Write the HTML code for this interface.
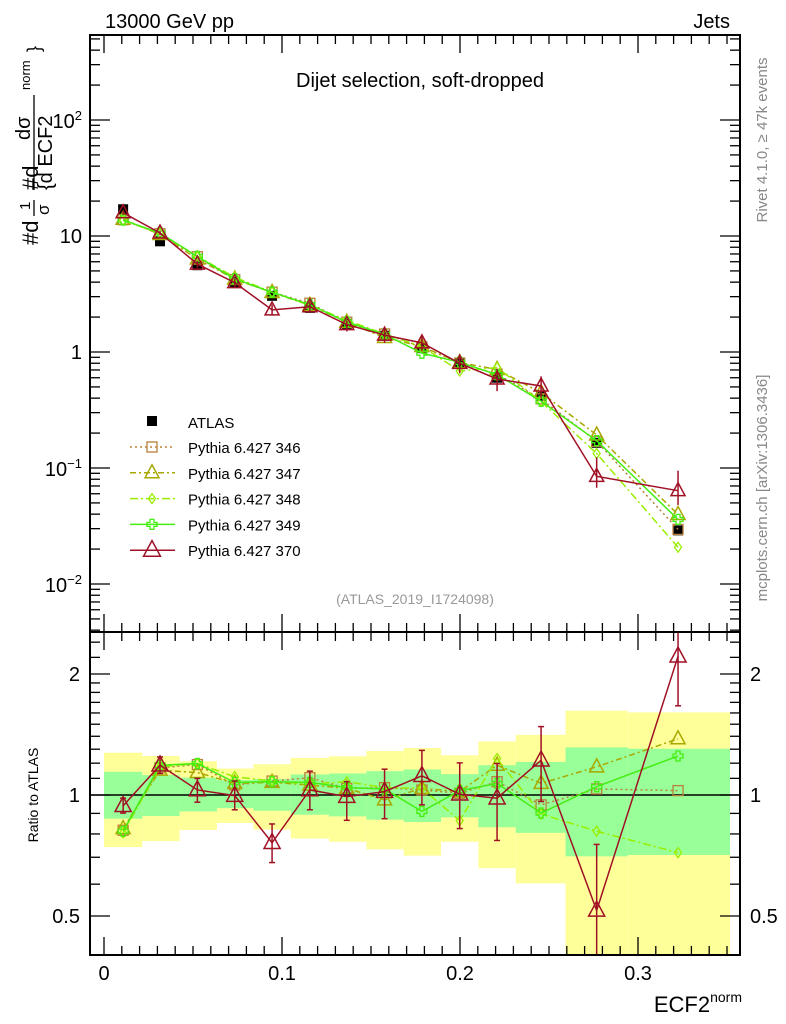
<!DOCTYPE html>
<html><head><meta charset="utf-8"><style>
html,body{margin:0;padding:0;background:#fff;}
svg{display:block;font-family:"Liberation Sans",sans-serif;}
</style></head><body>
<svg id="s" width="786" height="1024" xmlns="http://www.w3.org/2000/svg"></svg>
<script>
const S=document.getElementById('s');let h='';
const X0=90,X1=740,MT=35,MB=632,RB=955;
const xp=v=>104+v*1780;
const zx=z=>104+(z-52)/2.249;
const ym=v=>352-116*Math.log10(v);
const yr=r=>795-121*Math.log2(r);
const zy=z=>Math.pow(2,(527-z)/367);
const edgesZ=[52,138,222,306,388,472,558,642,726,810,894,978,1090,1230,1460];
const Y=[[402,688],[412,670],[428,636],[450,615],[437,635],[418,662],[413,672],[397,695],[388,714],[410,672],[368,752],[348,798],[275,1000],[280,1000]];
const G=[[460,602],[470,594],[478,580],[485,570],[482,578],[468,590],[465,595],[458,605],[453,612],[467,598],[440,628],[430,645],[386,716],[390,712]];
const zc=z=>620+z/3.03;
for(let i=0;i<14;i++){const a=zx(edgesZ[i]),b=zx(edgesZ[i+1]);const bot=Y[i][1]>=1000?RB:zc(Y[i][1]);
h+=`<rect x="${a}" y="${zc(Y[i][0])}" width="${b-a}" height="${bot-zc(Y[i][0])}" fill="#ffff99"/>`;}
for(let i=0;i<14;i++){const a=zx(edgesZ[i]),b=zx(edgesZ[i+1]);
h+=`<rect x="${a}" y="${zc(G[i][0])}" width="${b-a}" height="${zc(G[i][1])-zc(G[i][0])}" fill="#99ff99"/>`;}
h+=`<line x1="${X0}" x2="${X1}" y1="795" y2="795" stroke="#000" stroke-width="1.5"/>`;
const xc=[95,178,262,346,430,515,598,683,767,852,936,1035,1160,1343].map(zx);
const atlas=[17,9.0,5.6,4.0,3.05,2.4,1.75,1.38,1.08,0.8,0.6,0.42,0.165,0.029];
const series=[
{c:'#b8803a',d:'2,3',m:'sq',r:[637,448,438,500,488,478,510,508,515,525,490,560,512,517]},
{c:'#a8a800',d:'6,3,2,3',m:'tri',r:[632,455,462,495,492,500,510,545,510,520,440,495,445,360]},
{c:'#99ee00',d:'8,3,2,3',m:'dia',r:[645,445,435,475,488,497,490,508,510,608,420,588,640,705]},
{c:'#44ee11',d:'',m:'cross',r:[640,440,435,492,490,492,508,512,580,517,495,585,505,412]},
{c:'#a01025',d:'',m:'tri',r:[563,440,515,532,675,515,535,520,472,528,540,425,880,110]}];
const err370=[[540,585],[415,465],[480,552],[488,575],[618,735],[458,575],[490,607],[452,602],[395,560],[433,632],[435,668],[323,550],[680,1100],[-100,260]];
function mk(t,x,y,c,s){s=s||1;
if(t=='sq')return `<rect x="${x-5*s}" y="${y-5*s}" width="${10*s}" height="${10*s}" fill="none" stroke="${c}" stroke-width="1.3"/>`;
if(t=='tri')return `<polygon points="${x},${y-8*s} ${x-7*s},${y+5*s} ${x+7*s},${y+5*s}" fill="none" stroke="${c}" stroke-width="1.5"/>`;
if(t=='dia')return `<polygon points="${x},${y-5} ${x-3.5},${y} ${x},${y+5} ${x+3.5},${y}" fill="none" stroke="${c}" stroke-width="1.3"/>`;
if(t=='cross')return `<path d="M${x-2},${y-5}h4v3h3v4h-3v3h-4v-3h-3v-4h3z" fill="none" stroke="${c}" stroke-width="1.3"/>`;
if(t=='atl')return `<rect x="${x-5}" y="${y-5}" width="10" height="10" fill="#000"/>`;}
h+=`<defs><clipPath id="cm"><rect x="${X0}" y="${MT}" width="${X1-X0}" height="${MB-MT}"/></clipPath><clipPath id="cr"><rect x="${X0}" y="${MB}" width="${X1-X0}" height="${RB-MB}"/></clipPath></defs>`;
let m='';
atlas.forEach((v,i)=>m+=mk('atl',xc[i],ym(v)));
series.forEach((s,k)=>{const pts=s.r.map((z,i)=>[xc[i],ym(atlas[i]*zy(z))]);
m+=`<polyline points="${pts.map(p=>p.join(',')).join(' ')}" fill="none" stroke="${s.c}" stroke-width="1.5" ${s.d?`stroke-dasharray="${s.d}"`:''}/>`;
if(k==4){pts.forEach((p,i)=>{const e=err370[i];const a=ym(atlas[i]*zy(e[0])),b=ym(atlas[i]*zy(Math.min(e[1],1000)));m+=`<line x1="${p[0]}" x2="${p[0]}" y1="${a}" y2="${b}" stroke="${s.c}" stroke-width="1.5"/>`;});}
pts.forEach(p=>m+=mk(s.m,p[0],p[1],s.c));});
h+=`<g clip-path="url(#cm)">${m}</g>`;
let r='';
series.forEach((s,k)=>{const pts=s.r.map((z,i)=>[xc[i],zc(z)]);
r+=`<polyline points="${pts.map(p=>p.join(',')).join(' ')}" fill="none" stroke="${s.c}" stroke-width="1.5" ${s.d?`stroke-dasharray="${s.d}"`:''}/>`;
if(k==4){pts.forEach((p,i)=>{const e=err370[i];r+=`<line x1="${p[0]}" x2="${p[0]}" y1="${zc(e[0])}" y2="${zc(e[1])}" stroke="${s.c}" stroke-width="1.5"/><line x1="${p[0]-3}" x2="${p[0]+3}" y1="${zc(e[0])}" y2="${zc(e[0])}" stroke="${s.c}" stroke-width="1.5"/><line x1="${p[0]-3}" x2="${p[0]+3}" y1="${zc(e[1])}" y2="${zc(e[1])}" stroke="${s.c}" stroke-width="1.5"/>`;});}
pts.forEach(p=>r+=mk(s.m,p[0],p[1],s.c,k==4?1.15:1));});
h+=`<g clip-path="url(#cr)">${r}</g>`;
h+=`<rect x="${X0}" y="${MT}" width="${X1-X0}" height="${RB-MT}" fill="none" stroke="#000" stroke-width="2"/><line x1="${X0}" x2="${X1}" y1="${MB}" y2="${MB}" stroke="#000" stroke-width="2"/>`;
for(let i=0;i<=35;i++){const x=xp(i*0.01);if(x<X0||x>X1)continue;const L=i%10==0?18:9;
[[MT,1],[MB,-1],[MB,1],[RB,-1]].forEach(([y,d])=>h+=`<line x1="${x}" x2="${x}" y1="${y}" y2="${y+d*L}" stroke="#000" stroke-width="1.3"/>`);}
for(let e=-3;e<=2;e++)for(let k=1;k<10;k++){const y=ym(k*Math.pow(10,e));if(y<MT||y>MB)continue;const L=k==1?20:10;
h+=`<line x1="${X0}" x2="${X0+L}" y1="${y}" y2="${y}" stroke="#000" stroke-width="1.3"/><line x1="${X1}" x2="${X1-L}" y1="${y}" y2="${y}" stroke="#000" stroke-width="1.3"/>`;}
[0.5,1,2].forEach(v=>{const y=yr(v);h+=`<line x1="${X0}" x2="${X0+20}" y1="${y}" y2="${y}" stroke="#000" stroke-width="1.3"/><line x1="${X1}" x2="${X1-20}" y1="${y}" y2="${y}" stroke="#000" stroke-width="1.3"/>`;});
[0.4,0.6,0.7,0.8,0.9,1.1,1.2,1.3,1.4,1.5,1.6,1.7,1.8,1.9,2.2,2.4].forEach(v=>{const y=yr(v);if(y<MB||y>RB)return;h+=`<line x1="${X0}" x2="${X0+10}" y1="${y}" y2="${y}" stroke="#000" stroke-width="1.3"/><line x1="${X1}" x2="${X1-10}" y1="${y}" y2="${y}" stroke="#000" stroke-width="1.3"/>`;});
const T=(x,y,t,s,a,extra)=>h+=`<text x="${x}" y="${y}" font-size="${s}" text-anchor="${a||'start'}" ${extra||''}>${t}</text>`;
T(82,128,'10<tspan font-size="13" dy="-8">2</tspan>',20,'end');
T(82,243,'10',20,'end');T(82,359,'1',20,'end');
T(82,476,'10<tspan font-size="13" dy="-8">−1</tspan>',20,'end');
T(82,592,'10<tspan font-size="13" dy="-8">−2</tspan>',20,'end');
[[2,'2'],[1,'1'],[0.5,'0.5']].forEach(([v,t])=>{T(80,yr(v)+7,t,20,'end');T(750,yr(v)+7,t,20,'start');});
[[0,'0'],[0.1,'0.1'],[0.2,'0.2'],[0.3,'0.3']].forEach(([v,t])=>T(xp(v),980,t,20,'middle'));
T(742,1012,'ECF2<tspan font-size="14" dy="-10">norm</tspan>',22,'end');
T(105,28,'13000 GeV pp',20);T(730,28,'Jets',20,'end');
T(420,87,'Dijet selection, soft-dropped',20,'middle');
T(415,604,'(ATLAS_2019_I1724098)',14,'middle','fill="#999"');
T(0,0,'Rivet 4.1.0, ≥ 47k events',15,'middle','fill="#888" transform="translate(767,140) rotate(-90)"');
T(0,0,'mcplots.cern.ch [arXiv:1306.3436]',15,'middle','fill="#888" transform="translate(767,488) rotate(-90)"');
T(0,0,'Ratio to ATLAS',14,'middle','transform="translate(38,795) rotate(-90)"');
T(0,0,'#d',22,'start','transform="translate(38,245) rotate(-90)"');
T(0,0,'1',15,'start','transform="translate(30,210) rotate(-90)"');
h+=`<line x1="34" x2="34" y1="216" y2="200" stroke="#000" stroke-width="1.3"/>`;
T(0,0,'σ',17,'start','transform="translate(49,215) rotate(-90)"');
T(0,0,'#d',22,'start','transform="translate(38,190) rotate(-90)"');
T(0,0,'dσ',20,'start','transform="translate(30,140) rotate(-90)"');
h+=`<line x1="34" x2="34" y1="190" y2="95" stroke="#000" stroke-width="1.3"/>`;
T(0,0,'{d ECF2',20,'start','transform="translate(52,190) rotate(-90)"');
T(0,0,'norm',13,'start','transform="translate(30,90) rotate(-90)"');
T(0,0,'}',18,'start','transform="translate(40,52) rotate(-90)"');
h+=mk('atl',152,421);T(188,428,'ATLAS',15);
series.forEach((s,k)=>{const y=447+k*25.8;h+=`<line x1="130" x2="175" y1="${y}" y2="${y}" stroke="${s.c}" stroke-width="1.5" ${s.d?`stroke-dasharray="${s.d}"`:''}/>`+mk(s.m,152,y,s.c,k==4?1.2:1);
T(188,y+6,'Pythia 6.427 '+[346,347,348,349,370][k],15);});
S.innerHTML=h;
</script>
</body></html>
